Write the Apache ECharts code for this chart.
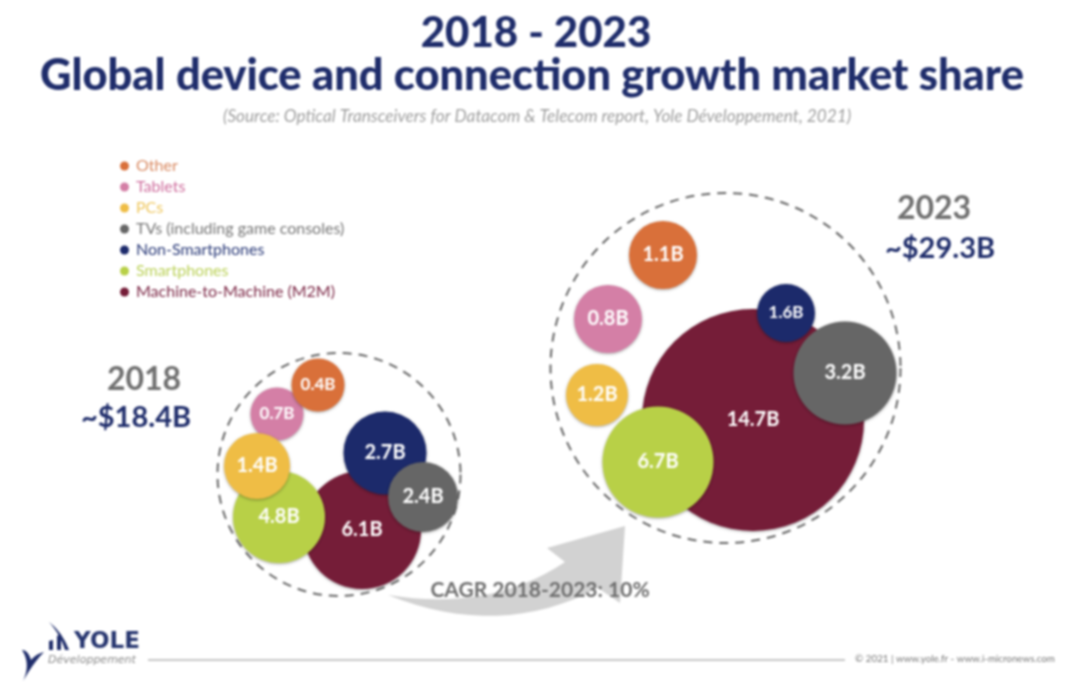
<!DOCTYPE html>
<html>
<head>
<meta charset="utf-8">
<title>Global device and connection growth market share</title>
<script src="https://cdn.jsdelivr.net/npm/echarts@6/dist/echarts.min.js"></script>
<style>
  html, body { margin: 0; padding: 0; background: #fff; }
  #chart { width: 1080px; height: 687px; filter: blur(0.8px); }
</style>
</head>
<body>
<div id="chart"></div>
<script>
// legend order, top to bottom
const categories = ['Other', 'Tablets', 'PCs', 'TVs (including game consoles)', 'Non-Smartphones', 'Smartphones', 'Machine-to-Machine (M2M)'];
const categoryColors = ['#d9703a', '#d47fa6', '#efbd45', '#666666', '#1c2a6b', '#b8d047', '#751d38'];
const legendTextColors = ['#d98a62', '#cf6f9e', '#efc75e', '#777777', '#2a3a78', '#bcd25a', '#7d2a48'];

const years = ['2018', '2023'];
const totals = ['~$18.4B', '~$29.3B'];
const values2018 = [0.4, 0.7, 1.4, 2.4, 2.7, 4.8, 6.1];
const values2023 = [1.1, 0.8, 1.2, 3.2, 1.6, 6.7, 14.7];

// bubbles are packed by hand in the source in page units
const bubbleX2018 = [318, 277, 257, 423, 385, 279, 362];
const bubbleY2018 = [385, 414, 466, 497, 453, 517, 530];
const bubbleD2018 = [53, 53, 66, 70, 83, 92, 118];
const bubbleX2023 = [663, 608, 597, 845, 786, 658, 753];
const bubbleY2023 = [255, 319, 395, 373, 313, 462, 420];
const bubbleD2023 = [68, 68, 62, 103, 58, 111, 222];

const ringX = [339, 725.5];
const ringY = [474.5, 368];
const ringD = [243, 350];

// painted back to front, overlaps are the same in both years
const drawOrder = [6, 4, 3, 5, 1, 0, 2];

const navy = '#1f2d6b';
const FONT = 'Lato';

function bubblePoint(i, xs, ys, ds, vals) {
  return {
    value: [xs[i], ys[i], vals[i]],
    symbolSize: ds[i],
    label: { fontSize: ds[i] < 60 ? 17 : 20 }
  };
}

const bubbleSeries = drawOrder.map(i => ({
  name: categories[i],
  type: 'scatter',
  z: 3,
  silent: true,
  data: [
    bubblePoint(i, bubbleX2018, bubbleY2018, bubbleD2018, values2018),
    bubblePoint(i, bubbleX2023, bubbleY2023, bubbleD2023, values2023)
  ],
  itemStyle: {
    color: categoryColors[i],
    opacity: 1,
    shadowBlur: 3,
    shadowOffsetY: 1,
    shadowColor: 'rgba(0, 0, 0, 0.35)'
  },
  label: {
    show: true,
    position: 'inside',
    formatter: p => p.value[2].toFixed(1) + 'B',
    color: '#fff',
    fontFamily: FONT,
    fontWeight: 'bold'
  }
}));

const ringSeries = {
  name: 'total',
  type: 'scatter',
  z: 2,
  silent: true,
  data: ringX.map((x, i) => ({ value: [x, ringY[i]], symbolSize: ringD[i] })),
  itemStyle: {
    color: 'rgba(255, 255, 255, 0)',
    opacity: 1,
    borderColor: '#666',
    borderWidth: 2,
    borderType: [9, 7]
  }
};

function pageText(text, x, y, size, color, extra) {
  return {
    type: 'text',
    x: x,
    y: y,
    z: 5,
    silent: true,
    style: Object.assign({
      text: text,
      fill: color,
      font: 'bold ' + size + 'px ' + FONT,
      textAlign: 'center',
      textVerticalAlign: 'middle'
    }, extra)
  };
}

// quadratic curve as polygon points, type 'path' does not construct here
function quad(p0, c, p1) {
  const pts = [];
  for (let k = 0; k <= 16; k++) {
    const t = k / 16;
    pts.push([
      (1 - t) * (1 - t) * p0[0] + 2 * t * (1 - t) * c[0] + t * t * p1[0],
      (1 - t) * (1 - t) * p0[1] + 2 * t * (1 - t) * c[1] + t * t * p1[1]
    ]);
  }
  return pts;
}

function poly(points, fill) {
  return { type: 'polygon', z: 1, silent: true, shape: { points: points }, style: { fill: fill } };
}

const arrowPoints = quad([388, 595], [490, 612], [565, 562])
  .concat([[547, 548], [625, 526], [620, 603], [598, 588]])
  .concat(quad([598, 588], [500, 640], [388, 595]));

const logoSwoosh = quad([49, 622], [62, 632], [69, 650]).concat(quad([65, 650], [60, 634], [49, 622]));
const logoY = quad([22, 650], [28, 650], [31, 660]).concat(quad([31, 660], [36, 654], [44, 652]))
  .concat(quad([44, 652], [34, 662], [23, 681])).concat(quad([23, 681], [31, 664], [22, 650]));

const chart = echarts.init(document.getElementById('chart'));
chart.setOption({
  backgroundColor: '#fff',
  animation: false,
  title: [
    {
      text: '2018 - 2023',
      left: 536, top: 33, padding: 0,
      textAlign: 'center', textVerticalAlign: 'middle',
      textStyle: { color: navy, fontFamily: FONT, fontWeight: 900, fontSize: 42 }
    },
    {
      text: 'Global device and connection growth market share',
      left: 532, top: 76, padding: 0,
      textAlign: 'center', textVerticalAlign: 'middle',
      textStyle: { color: navy, fontFamily: FONT, fontWeight: 900, fontSize: 43.4 }
    },
    {
      text: '(Source: Optical Transceivers for Datacom & Telecom report, Yole Développement, 2021)',
      left: 537, top: 116, padding: 0,
      textAlign: 'center', textVerticalAlign: 'middle',
      textStyle: { color: '#a0a0a0', fontFamily: FONT, fontStyle: 'italic', fontWeight: 'normal', fontSize: 17.2 }
    }
  ],
  grid: { left: 0, right: 0, top: 0, bottom: 0 },
  xAxis: { type: 'value', min: 0, max: 1080, show: false },
  yAxis: { type: 'value', min: 0, max: 687, inverse: true, show: false },
  legend: {
    left: 120,
    top: 158,
    orient: 'vertical',
    selectedMode: false,
    icon: 'circle',
    itemWidth: 9,
    itemHeight: 9,
    itemGap: 5,
    padding: 0,
    data: categories.map((name, i) => ({
      name: name,
      itemStyle: { color: categoryColors[i], shadowBlur: 0, shadowOffsetY: 0 },
      textStyle: { color: legendTextColors[i], fontFamily: FONT, fontSize: 16, padding: [0, 0, 0, 2], height: 16, lineHeight: 16 }
    }))
  },
  graphic: [
    // CAGR arrow behind the text
    poly(arrowPoints, '#d2d2d2'),
    // footer rule
    {
      type: 'line',
      z: 1,
      silent: true,
      shape: { x1: 148, y1: 660, x2: 845, y2: 660 },
      style: { stroke: '#b5b5b5', lineWidth: 1.5 }
    },
    // logo marks
    poly(logoSwoosh, navy),
    poly([[49, 641], [53, 640], [53, 650], [49, 650]], navy),
    poly([[57, 636], [61, 634], [61, 650], [57, 650]], navy),
    poly(logoY, navy),
    pageText('YOLE', 107, 642, 23, '#26356f', { font: 'bold 23px "DejaVu Sans"' }),
    pageText('Développement', 92, 660, 11, '#8a8a8a', { font: 'italic 11px "DejaVu Sans"' }),
    pageText('© 2021 | www.yole.fr - www.i-micronews.com', 955, 659, 10, '#777777', { font: '9.8px ' + FONT }),
    pageText('CAGR 2018-2023: 10%', 540, 590, 21, '#6f6f6f'),
    pageText(years[0], 144, 380, 32, '#6f6f6f'),
    pageText(totals[0], 136, 418, 29, navy),
    pageText(years[1], 934, 209, 32, '#6f6f6f'),
    pageText(totals[1], 940, 249, 29, navy)
  ],
  series: [ringSeries].concat(bubbleSeries)
});
</script>
</body>
</html>
